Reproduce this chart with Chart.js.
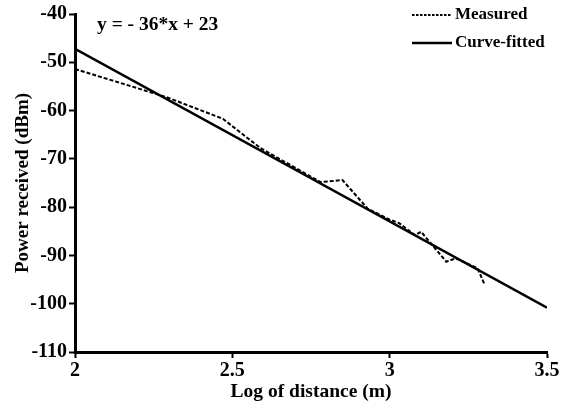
<!DOCTYPE html>
<html>
<head>
<meta charset="utf-8">
<script src="https://cdn.jsdelivr.net/npm/chart.js@4/dist/chart.umd.min.js"></script>
<style>
  html, body { margin: 0; padding: 0; background: #fff; }
  #wrap { width: 568px; height: 404px; }
</style>
</head>
<body>
<div id="wrap"><canvas id="chart"></canvas></div>
<script>
// Measured data (log distance vs power)
const measuredX = [2.0, 2.29, 2.47, 2.525, 2.59, 2.78, 2.85, 2.93, 3.0, 3.03, 3.08, 3.1, 3.18, 3.21, 3.28, 3.3];
const measuredY = [-51.4, -57.2, -61.7, -64.5, -67.8, -74.8, -74.4, -80.3, -82.6, -83.3, -85.8, -85.1, -91.3, -90.6, -92.7, -95.8];

// Fitted line end points
const fittedX = [2.0, 3.5];
const fittedY = [-47.2, -100.8];

const xTicks = [2, 2.5, 3, 3.5];
const yTicks = [-40, -50, -60, -70, -80, -90, -100, -110];

const equationText = 'y = - 36*x + 23';
const legendLabels = ['Measured', 'Curve-fitted'];

const toPoints = (xs, ys) => xs.map((x, i) => ({ x: x, y: ys[i] }));

const serif = "'Liberation Serif', 'DejaVu Serif', serif";

// draw the equation and the legend in the top area
const annotations = {
  id: 'annotations',
  afterDraw(chart) {
    const ctx = chart.ctx;
    ctx.save();
    ctx.fillStyle = '#000';
    ctx.font = 'bold 19.5px ' + serif;
    ctx.textBaseline = 'middle';
    ctx.textAlign = 'left';
    ctx.fillText(equationText, 97, 25);

    // legend
    ctx.strokeStyle = '#000';
    ctx.lineWidth = 2;
    ctx.setLineDash([2.5, 1.5]);
    ctx.beginPath();
    ctx.moveTo(412, 15);
    ctx.lineTo(451, 15);
    ctx.stroke();
    ctx.setLineDash([]);
    ctx.lineWidth = 2.5;
    ctx.beginPath();
    ctx.moveTo(412, 43);
    ctx.lineTo(452, 43);
    ctx.stroke();
    ctx.font = 'bold 17px ' + serif;
    ctx.fillText(legendLabels[0], 455, 15);
    ctx.fillText(legendLabels[1], 455, 43);
    ctx.restore();
  }
};

new Chart(document.getElementById('chart'), {
  type: 'scatter',
  data: {
    datasets: [
      {
        label: legendLabels[0],
        data: toPoints(measuredX, measuredY),
        showLine: true,
        borderColor: '#000',
        borderWidth: 2,
        borderDash: [4, 2],
        pointRadius: 0,
        tension: 0
      },
      {
        label: legendLabels[1],
        data: toPoints(fittedX, fittedY),
        showLine: true,
        borderColor: '#000',
        borderWidth: 2.5,
        pointRadius: 0,
        tension: 0
      }
    ]
  },
  options: {
    responsive: true,
    maintainAspectRatio: false,
    animation: false,
    layout: { padding: { top: 13, right: 21, left: 0, bottom: 0 } },
    plugins: {
      legend: { display: false },
      tooltip: { enabled: false }
    },
    scales: {
      x: {
        type: 'linear',
        min: 2,
        max: 3.5,
        afterBuildTicks: (scale) => { scale.ticks = xTicks.map(v => ({ value: v })); },
        afterFit: (scale) => { scale.height = 52; },
        border: { display: true, color: '#000', width: 3 },
        grid: { drawOnChartArea: false, color: '#000', tickLength: 6, tickWidth: 2 },
        ticks: {
          color: '#000',
          padding: 1,
          font: { family: serif, size: 20, weight: 'bold' },
          callback: (v) => String(v)
        },
        title: {
          display: true,
          text: 'Log of distance (m)',
          color: '#000',
          padding: { top: -4, bottom: 0 },
          font: { family: serif, size: 19.5, weight: 'bold' }
        }
      },
      y: {
        type: 'linear',
        min: -110,
        max: -40,
        afterBuildTicks: (scale) => { scale.ticks = yTicks.map(v => ({ value: v })); },
        afterFit: (scale) => { scale.width = 75; },
        border: { display: true, color: '#000', width: 3 },
        grid: { drawOnChartArea: false, color: '#000', tickLength: 6, tickWidth: 2 },
        ticks: {
          color: '#000',
          padding: 2,
          font: { family: serif, size: 20, weight: 'bold' },
          callback: (v) => String(v)
        },
        title: {
          display: true,
          text: 'Power received (dBm)',
          color: '#000',
          padding: { top: 12, bottom: 0 },
          font: { family: serif, size: 19, weight: 'bold' }
        }
      }
    }
  },
  plugins: [annotations]
});
</script>
</body>
</html>
